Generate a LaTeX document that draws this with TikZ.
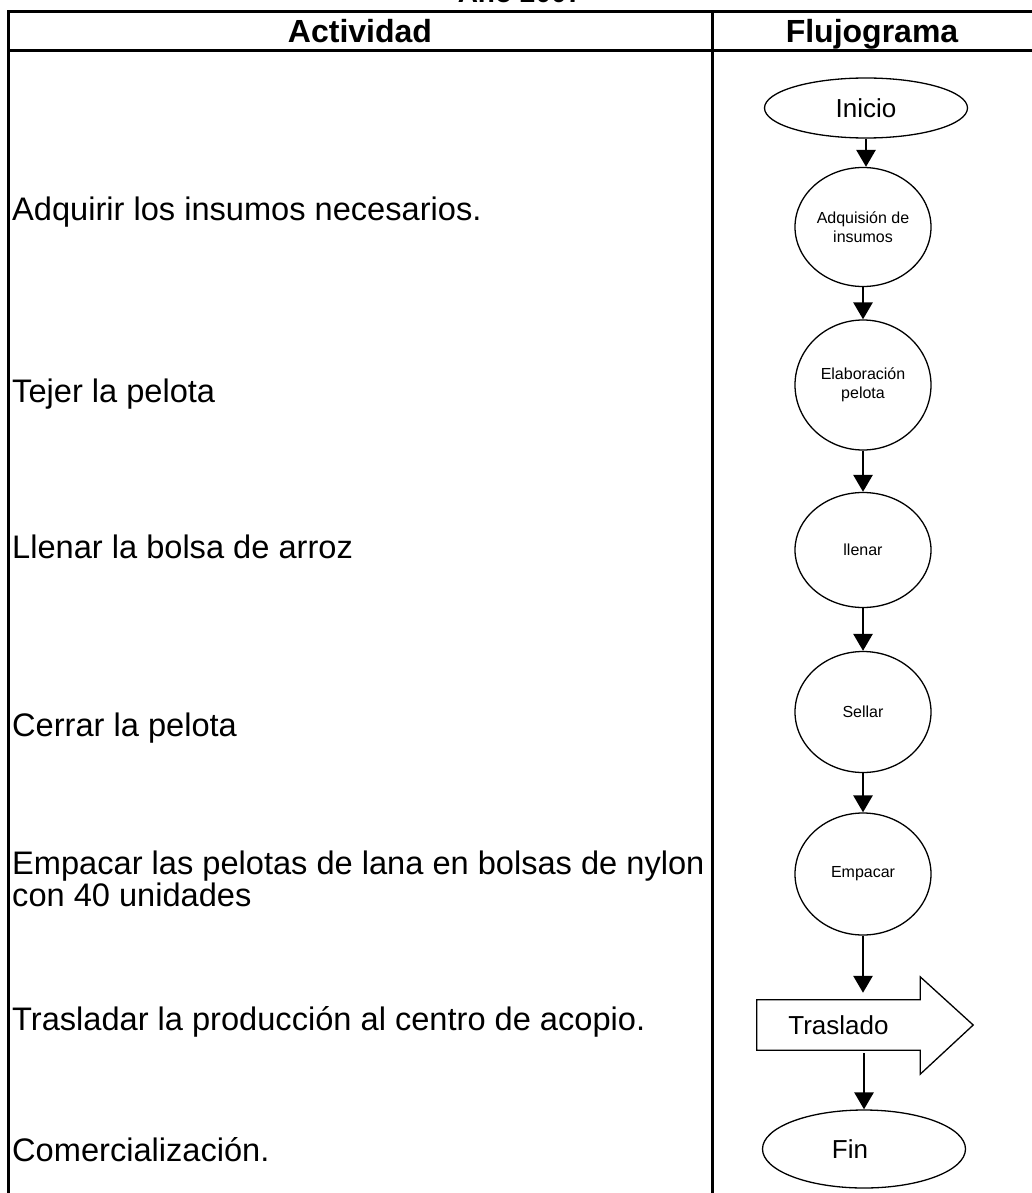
\documentclass[tikz,border=0pt]{standalone}
\usepackage{fontspec}
\setmainfont{Liberation Sans}
\usepackage{tikz}
\usetikzlibrary{positioning,shapes.geometric,arrows.meta,calc}
\tikzset{
  term/.style={draw, ellipse, line width=1.3pt, minimum width=203pt, minimum height=60pt, inner sep=0pt, font=\fontsize{26}{30}\selectfont},
  proc/.style={draw, ellipse, line width=1.3pt, minimum width=136pt, minimum height=120pt, inner sep=0pt, align=center, font=\fontsize{16}{19}\selectfont},
  act/.style={anchor=base west, inner sep=0pt, align=left, font=\fontsize{32.6}{32}\selectfont},
  head/.style={font=\bfseries\fontsize{32}{36}\selectfont, inner sep=0pt, anchor=base},
  grid/.style={line width=3pt},
  flow/.style={line width=2.8pt, -{Triangle[width=19pt,length=17pt]}},
}

\begin{document}
\begin{tikzpicture}[x=1pt, y=-1pt]
\useasboundingbox (0,0) rectangle (1032,1193);

% table
\node (title) [head, font=\bfseries\fontsize{28}{32}\selectfont] at (520,3) {Año 2007};
\node (hact)  [head] at (360,43) {Actividad};
\node (hflu)  [head] at (872,43) {Flujograma};
\draw[grid] (8,12) -- (1032,12);
\draw[grid] (8,51) -- (1032,51);
\draw[grid] (8,10.5) -- (8,1193);
\draw[grid] (712,10.5) -- (712,1193);

% activities
\node (act1) [act] at (12,220)  {Adquirir los insumos necesarios.};
\node (act2) [act] at (12,402)  {Tejer la pelota};
\node (act3) [act] at (12,558)  {Llenar la bolsa de arroz};
\node (act4) [act] at (12,736)  {Cerrar la pelota};
\node (act5) [act] at (12,906)  {Empacar las pelotas de lana en bolsas de nylon\\[0pt]con 40 unidades};
\node (act6) [act] at (12,1030) {Trasladar la producción al centro de acopio.};
\node (act7) [act] at (12,1161) {Comercialización.};

% flow chart
\node (ini)  [term] at (866,108) {Inicio};
\node (adq)  [proc, minimum height=119pt] at (863,227) {Adquisión de\\insumos};
\node (elab) [proc, minimum height=130pt] at (863,385) {Elaboración\\pelota};
\node (llen) [proc, minimum height=115pt] at (863,550) {llenar};
\node (sell) [proc, minimum height=121pt] at (863,712) {Sellar};
\node (emp)  [proc, minimum height=122pt] at (863,874) {Empacar};
\node (tras) [minimum width=163pt, minimum height=50pt, inner sep=0pt, font=\fontsize{26}{30}\selectfont] at (838.5,1025) {Traslado};
\draw[line width=1.3pt] (tras.north east) -- ++(0,-23) -- ($(tras.east)+(53,0)$) -- ($(tras.south east)+(0,24)$)
  -- (tras.south east) -- (tras.south west) -- (tras.north west) -- cycle;
\node (fin)  [term, minimum height=78pt] at (864,1149) {\hspace*{-28pt}Fin};

% main path
\draw[flow] (ini.south -| 866,0) -- (adq.north -| 866,0);
\draw[flow] (adq) -- (elab);
\draw[flow] (elab) -- (llen);
\draw[flow] (llen) -- (sell);
\draw[flow] (sell) -- (emp);
\draw[flow] (emp.south) -- ($(tras.north -| emp.south)+(0,-7)$);
\draw[flow] ($(tras.south -| fin.north)+(0,3)$) -- (fin.north);
\end{tikzpicture}
\end{document}
